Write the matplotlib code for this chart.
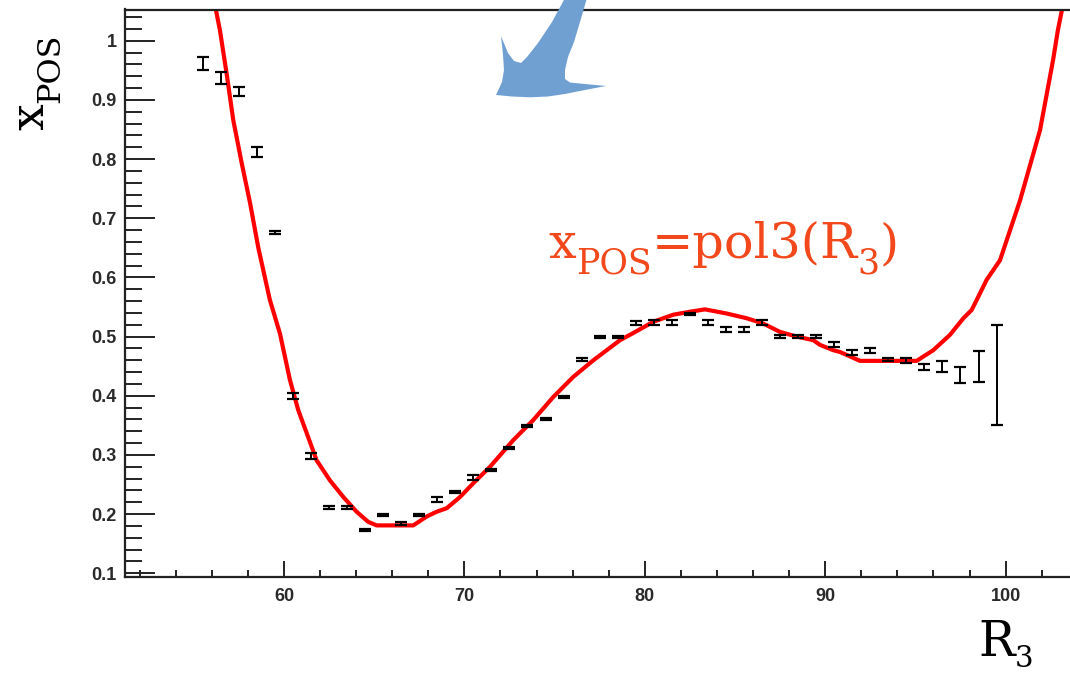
import numpy as np
import matplotlib
matplotlib.use("Agg")
import matplotlib.pyplot as plt
from matplotlib.patches import Polygon
from matplotlib.ticker import MultipleLocator, FuncFormatter

# measured points (bin centres of R3) and their errors
r3 = [55.5, 56.5, 57.5, 58.5, 59.5, 60.5, 61.5, 62.5, 63.5, 64.5,
      65.5, 66.5, 67.5, 68.5, 69.5, 70.5, 71.5, 72.5, 73.5, 74.5,
      75.5, 76.5, 77.5, 78.5, 79.5, 80.5, 81.5, 82.5, 83.5, 84.5,
      85.5, 86.5, 87.5, 88.5, 89.5, 90.5, 91.5, 92.5, 93.5, 94.5,
      95.5, 96.5, 97.5, 98.5, 99.5]
xpos = [0.962, 0.937, 0.914, 0.812, 0.676, 0.400, 0.298, 0.211, 0.211, 0.173,
        0.199, 0.184, 0.199, 0.225, 0.237, 0.262, 0.275, 0.312, 0.349, 0.361,
        0.398, 0.461, 0.499, 0.499, 0.523, 0.524, 0.524, 0.538, 0.524, 0.512,
        0.512, 0.524, 0.500, 0.500, 0.500, 0.487, 0.473, 0.476, 0.461, 0.459,
        0.449, 0.449, 0.435, 0.449, 0.435]
xpos_err = [0.011, 0.010, 0.008, 0.008, 0.003, 0.005, 0.005, 0.002, 0.002, 0.002,
            0.002, 0.002, 0.002, 0.004, 0.002, 0.004, 0.002, 0.002, 0.002, 0.002,
            0.002, 0.002, 0.002, 0.002, 0.004, 0.004, 0.004, 0.002, 0.004, 0.004,
            0.004, 0.004, 0.002, 0.002, 0.002, 0.004, 0.004, 0.004, 0.002, 0.004,
            0.005, 0.009, 0.0135, 0.026, 0.085]

# fitted curve as drawn
fit_x = [56.12, 56.45, 56.82, 57.19, 57.66, 58.12, 58.58, 59.22, 59.78, 60.33,
         60.79, 61.26, 61.81, 62.55, 63.29, 64.03, 64.67, 65.14, 67.17, 67.91,
         68.46, 69.02, 69.76, 70.49, 71.42, 72.71, 73.82, 74.93, 76.04, 77.15,
         78.63, 79.36, 80.47, 81.58, 82.50, 83.34, 84.54, 85.65, 86.57, 87.49,
         88.42, 89.34, 89.71, 90.45, 90.82, 91.93, 95.07, 95.99, 96.92, 97.66,
         98.12, 98.40, 98.95, 99.69, 100.80, 101.91, 102.63, 102.90, 103.13, 103.30]
fit_y = [1.069, 1.018, 0.945, 0.866, 0.793, 0.726, 0.650, 0.562, 0.505, 0.427,
         0.376, 0.337, 0.291, 0.257, 0.229, 0.204, 0.187, 0.181, 0.181, 0.196,
         0.204, 0.210, 0.229, 0.252, 0.280, 0.325, 0.359, 0.398, 0.432, 0.460,
         0.494, 0.506, 0.525, 0.537, 0.542, 0.546, 0.539, 0.531, 0.522, 0.508,
         0.500, 0.494, 0.486, 0.477, 0.474, 0.459, 0.459, 0.477, 0.503, 0.531,
         0.545, 0.562, 0.596, 0.629, 0.730, 0.849, 0.967, 1.018, 1.053, 1.080]

W, H = 1070, 676
fig = plt.figure(figsize=(W / 100, H / 100), dpi=100)
ax = fig.add_axes([125 / W, 1 - 576.7 / H, 945 / W, 567.2 / H])

ax.plot(fit_x, fit_y, color='#ff0000', lw=3.0, zorder=2)
ax.errorbar(r3, xpos, yerr=xpos_err, fmt='none', ecolor='black',
            elinewidth=1.4, capsize=4.2, capthick=1.6, zorder=3)

ax.set_xlim(51.19, 103.57)
ax.set_ylim(0.0943, 1.0527)

ax.xaxis.set_major_locator(MultipleLocator(10))
ax.xaxis.set_minor_locator(MultipleLocator(2))
ax.yaxis.set_major_locator(MultipleLocator(0.1))
ax.yaxis.set_minor_locator(MultipleLocator(0.02))
ax.yaxis.set_major_formatter(FuncFormatter(lambda v, p: '%g' % round(v, 2)))

ax.tick_params(axis='x', which='major', direction='in', length=11.3, width=1.4,
               pad=8, labelsize=13, colors='#222222')
ax.tick_params(axis='x', which='minor', direction='in', length=5, width=1.4,
               colors='#222222')
ax.tick_params(axis='y', which='major', direction='in', length=21.6, width=1.4,
               pad=6, labelsize=13, colors='#222222')
ax.tick_params(axis='y', which='minor', direction='in', length=12, width=1.4,
               colors='#222222')
for lab in ax.get_xticklabels() + ax.get_yticklabels():
    lab.set_fontfamily('Liberation Sans')
    lab.set_fontweight('bold')
    lab.set_color('#2a2a2a')

ax.spines['right'].set_visible(False)
for s in ['left', 'bottom', 'top']:
    ax.spines[s].set_linewidth(1.6)
    ax.spines[s].set_color('#222222')

renderer = fig.canvas.get_renderer()


def rich_text(x_px, y_px, parts, color='black', vertical=False):
    # parts: (text, fontsize, drop in px below the baseline)
    pos = y_px if vertical else x_px
    for txt, size, drop in parts:
        if vertical:
            t = fig.text((x_px + drop) / W, 1 - pos / H, txt, rotation=90,
                         rotation_mode='anchor', ha='left', va='baseline',
                         fontsize=size, family='DejaVu Serif', color=color)
            pos -= t.get_window_extent(renderer).height
        else:
            t = fig.text(pos / W, 1 - (y_px + drop) / H, txt, ha='left',
                         va='baseline', fontsize=size, family='DejaVu Serif',
                         color=color)
            pos += t.get_window_extent(renderer).width


# axis titles
rich_text(43, 130, [('x', 34, 0), ('POS', 23, 16)], vertical=True)
rich_text(978, 656, [('R', 35, 0), ('3', 21, 11)])

# fit annotation
rich_text(548, 258, [('x', 35.5, 0), ('POS', 25, 16), ('=pol3(R', 35.5, 0),
                     ('3', 25, 16), (')', 35.5, 0)], color='#f2481b')

# blue arrow
arrow_px = [(565, -2), (552, 22), (538, 43), (527, 57), (521, 63), (514, 61),
            (508, 53), (501, 36), (503, 55), (504, 70), (502, 82), (496, 95),
            (512, 96.5), (530, 97.3), (548, 96.5), (565, 94), (585, 90),
            (606, 86), (585, 84), (570, 82.5), (565, 79), (565, 70), (568, 57),
            (574, 42), (580, 22), (587, -2)]
arrow = Polygon([(x / W, 1 - y / H) for x, y in arrow_px], closed=True,
                transform=fig.transFigure, facecolor='#70a0d2', edgecolor='none',
                zorder=5)
fig.add_artist(arrow)

fig.savefig('out.png', dpi=100)
